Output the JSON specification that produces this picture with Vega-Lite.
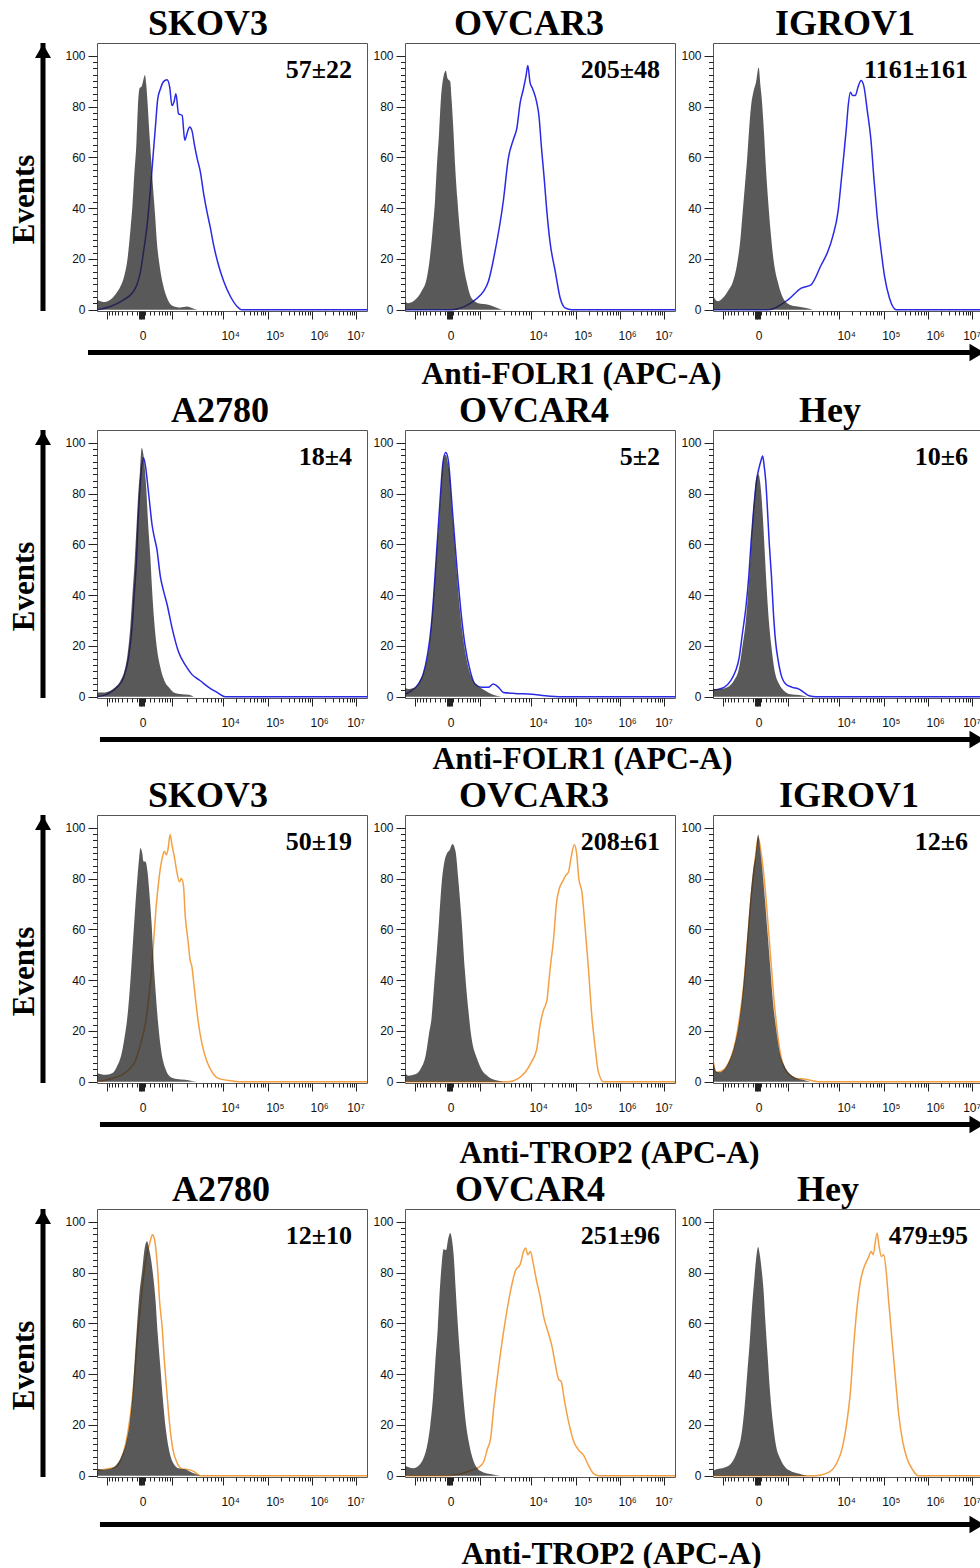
{
  "$schema": "https://vega.github.io/schema/vega-lite/v6.json",
  "padding": {"left": 8, "top": 5, "right": 0, "bottom": 0},
  "background": "white",
  "config": {
    "view": {"stroke": "#555", "strokeWidth": 1},
    "title": {"font": "Liberation Serif", "fontSize": 36, "fontWeight": "bold", "color": "black", "baseline": "alphabetic", "offset": 0.5, "anchor": "middle"},
    "axis": {"grid": false, "domain": false, "tickColor": "#222", "tickWidth": 1, "labelColor": "#111", "labelFont": "Liberation Sans", "labelFontSize": 12, "labelOverlap": false, "labelBound": false, "labelFlush": false}
  },
  "datasets": {
    "FOLR1_SKOV3": [
      {"stain":"label","mfi":"57±22"},
      {"stain":"isotype","apc":-1,"events":3.9},{"stain":"isotype","apc":-0.85,"events":3},{"stain":"isotype","apc":-0.7,"events":3.9},{"stain":"isotype","apc":-0.59,"events":5.9},{"stain":"isotype","apc":-0.47,"events":9.2},{"stain":"isotype","apc":-0.38,"events":13.7},{"stain":"isotype","apc":-0.31,"events":20.3},{"stain":"isotype","apc":-0.25,"events":30.7},{"stain":"isotype","apc":-0.2,"events":41.2},{"stain":"isotype","apc":-0.16,"events":52.9},{"stain":"isotype","apc":-0.11,"events":66},{"stain":"isotype","apc":-0.08,"events":79},{"stain":"isotype","apc":-0.04,"events":87.2},{"stain":"isotype","apc":0.01,"events":88},{"stain":"isotype","apc":0.05,"events":90.8},{"stain":"isotype","apc":0.08,"events":92.4},{"stain":"isotype","apc":0.11,"events":88.9},{"stain":"isotype","apc":0.14,"events":81.7},{"stain":"isotype","apc":0.18,"events":69.9},{"stain":"isotype","apc":0.22,"events":59.5},{"stain":"isotype","apc":0.26,"events":49},{"stain":"isotype","apc":0.31,"events":37.3},{"stain":"isotype","apc":0.35,"events":26.8},{"stain":"isotype","apc":0.41,"events":17.6},{"stain":"isotype","apc":0.49,"events":9.8},{"stain":"isotype","apc":0.58,"events":4.6},{"stain":"isotype","apc":0.69,"events":1.7},{"stain":"isotype","apc":0.88,"events":0.9},{"stain":"isotype","apc":1.03,"events":1.3},{"stain":"isotype","apc":1.14,"events":0.7},{"stain":"isotype","apc":1.26,"events":0},
      {"stain":"antibody","apc":-1,"events":0},{"stain":"antibody","apc":-0.7,"events":1.3},{"stain":"antibody","apc":-0.4,"events":3.9},{"stain":"antibody","apc":-0.21,"events":6.5},{"stain":"antibody","apc":-0.1,"events":9.8},{"stain":"antibody","apc":-0.02,"events":15},{"stain":"antibody","apc":0.05,"events":22.9},{"stain":"antibody","apc":0.13,"events":33.3},{"stain":"antibody","apc":0.2,"events":46.4},{"stain":"antibody","apc":0.26,"events":59.5},{"stain":"antibody","apc":0.32,"events":72.5},{"stain":"antibody","apc":0.37,"events":83},{"stain":"antibody","apc":0.43,"events":86.9},{"stain":"antibody","apc":0.5,"events":89.8},{"stain":"antibody","apc":0.58,"events":90.5},{"stain":"antibody","apc":0.64,"events":87.6},{"stain":"antibody","apc":0.69,"events":80.4},{"stain":"antibody","apc":0.74,"events":82},{"stain":"antibody","apc":0.78,"events":85},{"stain":"antibody","apc":0.84,"events":77.1},{"stain":"antibody","apc":0.92,"events":76.5},{"stain":"antibody","apc":0.98,"events":66.7},{"stain":"antibody","apc":1.04,"events":70},{"stain":"antibody","apc":1.09,"events":71.9},{"stain":"antibody","apc":1.14,"events":70.6},{"stain":"antibody","apc":1.2,"events":64.7},{"stain":"antibody","apc":1.26,"events":59.5},{"stain":"antibody","apc":1.33,"events":54.4},{"stain":"antibody","apc":1.41,"events":45.2},{"stain":"antibody","apc":1.48,"events":38.6},{"stain":"antibody","apc":1.56,"events":32},{"stain":"antibody","apc":1.63,"events":25.5},{"stain":"antibody","apc":1.74,"events":17.6},{"stain":"antibody","apc":1.86,"events":11.1},{"stain":"antibody","apc":2.01,"events":5.2},{"stain":"antibody","apc":2.16,"events":1.3},{"stain":"antibody","apc":2.27,"events":0},{"stain":"antibody","apc":5.09,"events":0}
    ],
    "FOLR1_OVCAR3": [
      {"stain":"label","mfi":"205±48"},
      {"stain":"isotype","apc":-1,"events":3.3},{"stain":"isotype","apc":-0.93,"events":2.6},{"stain":"isotype","apc":-0.77,"events":3.9},{"stain":"isotype","apc":-0.63,"events":7.2},{"stain":"isotype","apc":-0.51,"events":12.4},{"stain":"isotype","apc":-0.44,"events":20.3},{"stain":"isotype","apc":-0.38,"events":30.7},{"stain":"isotype","apc":-0.32,"events":43.8},{"stain":"isotype","apc":-0.28,"events":56.9},{"stain":"isotype","apc":-0.23,"events":70},{"stain":"isotype","apc":-0.19,"events":83},{"stain":"isotype","apc":-0.14,"events":91},{"stain":"isotype","apc":-0.08,"events":94.1},{"stain":"isotype","apc":-0.04,"events":91},{"stain":"isotype","apc":0.02,"events":89.8},{"stain":"isotype","apc":0.05,"events":83},{"stain":"isotype","apc":0.09,"events":71.2},{"stain":"isotype","apc":0.13,"events":56.9},{"stain":"isotype","apc":0.18,"events":43.8},{"stain":"isotype","apc":0.24,"events":30.7},{"stain":"isotype","apc":0.3,"events":20.3},{"stain":"isotype","apc":0.39,"events":11.1},{"stain":"isotype","apc":0.5,"events":4.6},{"stain":"isotype","apc":0.65,"events":2.6},{"stain":"isotype","apc":0.88,"events":2},{"stain":"isotype","apc":1.11,"events":0.5},{"stain":"isotype","apc":1.2,"events":0},
      {"stain":"antibody","apc":-1,"events":0},{"stain":"antibody","apc":0.05,"events":0},{"stain":"antibody","apc":0.35,"events":1.3},{"stain":"antibody","apc":0.58,"events":3.9},{"stain":"antibody","apc":0.77,"events":7.2},{"stain":"antibody","apc":0.88,"events":11.1},{"stain":"antibody","apc":1.03,"events":22.9},{"stain":"antibody","apc":1.22,"events":43.1},{"stain":"antibody","apc":1.33,"events":59.5},{"stain":"antibody","apc":1.45,"events":67.3},{"stain":"antibody","apc":1.52,"events":71.2},{"stain":"antibody","apc":1.6,"events":81.7},{"stain":"antibody","apc":1.67,"events":86.9},{"stain":"antibody","apc":1.73,"events":92.1},{"stain":"antibody","apc":1.77,"events":96.1},{"stain":"antibody","apc":1.82,"events":89.5},{"stain":"antibody","apc":1.88,"events":86.9},{"stain":"antibody","apc":1.97,"events":81.7},{"stain":"antibody","apc":2.02,"events":76.5},{"stain":"antibody","apc":2.08,"events":63.4},{"stain":"antibody","apc":2.14,"events":51.6},{"stain":"antibody","apc":2.2,"events":38.6},{"stain":"antibody","apc":2.27,"events":26.8},{"stain":"antibody","apc":2.39,"events":15},{"stain":"antibody","apc":2.5,"events":4.6},{"stain":"antibody","apc":2.61,"events":0.7},{"stain":"antibody","apc":2.76,"events":0},{"stain":"antibody","apc":5.09,"events":0}
    ],
    "FOLR1_IGROV1": [
      {"stain":"label","mfi":"1161±161"},
      {"stain":"isotype","apc":-1,"events":8.5},{"stain":"isotype","apc":-0.97,"events":4.6},{"stain":"isotype","apc":-0.89,"events":3.3},{"stain":"isotype","apc":-0.78,"events":4.6},{"stain":"isotype","apc":-0.67,"events":7.2},{"stain":"isotype","apc":-0.55,"events":11.1},{"stain":"isotype","apc":-0.46,"events":17.6},{"stain":"isotype","apc":-0.38,"events":28.1},{"stain":"isotype","apc":-0.33,"events":38.6},{"stain":"isotype","apc":-0.28,"events":49},{"stain":"isotype","apc":-0.23,"events":59.5},{"stain":"isotype","apc":-0.19,"events":69.9},{"stain":"isotype","apc":-0.14,"events":80.4},{"stain":"isotype","apc":-0.09,"events":85.6},{"stain":"isotype","apc":-0.03,"events":89.5},{"stain":"isotype","apc":0.03,"events":95.4},{"stain":"isotype","apc":0.07,"events":88.2},{"stain":"isotype","apc":0.1,"events":83},{"stain":"isotype","apc":0.15,"events":69.9},{"stain":"isotype","apc":0.19,"events":56.9},{"stain":"isotype","apc":0.24,"events":43.8},{"stain":"isotype","apc":0.3,"events":30.7},{"stain":"isotype","apc":0.37,"events":19},{"stain":"isotype","apc":0.46,"events":11.1},{"stain":"isotype","apc":0.58,"events":4.6},{"stain":"isotype","apc":0.73,"events":2},{"stain":"isotype","apc":0.91,"events":1.3},{"stain":"isotype","apc":1.1,"events":0.7},{"stain":"isotype","apc":1.25,"events":0},
      {"stain":"antibody","apc":-1,"events":0},{"stain":"antibody","apc":0.24,"events":0},{"stain":"antibody","apc":0.69,"events":3.9},{"stain":"antibody","apc":0.99,"events":8.5},{"stain":"antibody","apc":1.21,"events":9.8},{"stain":"antibody","apc":1.44,"events":17.6},{"stain":"antibody","apc":1.59,"events":22.9},{"stain":"antibody","apc":1.7,"events":28.8},{"stain":"antibody","apc":1.82,"events":38.6},{"stain":"antibody","apc":1.89,"events":50.3},{"stain":"antibody","apc":1.95,"events":60.8},{"stain":"antibody","apc":2.01,"events":71.9},{"stain":"antibody","apc":2.05,"events":80.4},{"stain":"antibody","apc":2.1,"events":85.6},{"stain":"antibody","apc":2.15,"events":84.3},{"stain":"antibody","apc":2.21,"events":84.3},{"stain":"antibody","apc":2.27,"events":87.6},{"stain":"antibody","apc":2.34,"events":90.2},{"stain":"antibody","apc":2.4,"events":88.2},{"stain":"antibody","apc":2.48,"events":78.4},{"stain":"antibody","apc":2.56,"events":67.3},{"stain":"antibody","apc":2.63,"events":51.6},{"stain":"antibody","apc":2.7,"events":37.3},{"stain":"antibody","apc":2.79,"events":23.5},{"stain":"antibody","apc":2.87,"events":13.1},{"stain":"antibody","apc":2.98,"events":4.6},{"stain":"antibody","apc":3.13,"events":0},{"stain":"antibody","apc":5.09,"events":0}
    ],
    "FOLR1_A2780": [
      {"stain":"label","mfi":"18±4"},
      {"stain":"isotype","apc":-1,"events":1.7},{"stain":"isotype","apc":-0.85,"events":1.7},{"stain":"isotype","apc":-0.7,"events":2.4},{"stain":"isotype","apc":-0.59,"events":3.7},{"stain":"isotype","apc":-0.47,"events":6.3},{"stain":"isotype","apc":-0.38,"events":10.2},{"stain":"isotype","apc":-0.31,"events":16.8},{"stain":"isotype","apc":-0.25,"events":27.3},{"stain":"isotype","apc":-0.2,"events":40.4},{"stain":"isotype","apc":-0.15,"events":53.5},{"stain":"isotype","apc":-0.11,"events":66.6},{"stain":"isotype","apc":-0.07,"events":79.7},{"stain":"isotype","apc":-0.03,"events":88.9},{"stain":"isotype","apc":0.01,"events":98},{"stain":"isotype","apc":0.04,"events":96},{"stain":"isotype","apc":0.07,"events":91.4},{"stain":"isotype","apc":0.11,"events":82.2},{"stain":"isotype","apc":0.15,"events":69.1},{"stain":"isotype","apc":0.2,"events":56},{"stain":"isotype","apc":0.24,"events":42.9},{"stain":"isotype","apc":0.29,"events":29.8},{"stain":"isotype","apc":0.35,"events":19.3},{"stain":"isotype","apc":0.43,"events":11.5},{"stain":"isotype","apc":0.52,"events":6.3},{"stain":"isotype","apc":0.62,"events":3.7},{"stain":"isotype","apc":0.73,"events":1.7},{"stain":"isotype","apc":0.92,"events":1},{"stain":"isotype","apc":1.07,"events":0.8},{"stain":"isotype","apc":1.18,"events":0},
      {"stain":"antibody","apc":-1,"events":0},{"stain":"antibody","apc":-0.77,"events":1},{"stain":"antibody","apc":-0.55,"events":3.7},{"stain":"antibody","apc":-0.4,"events":7.6},{"stain":"antibody","apc":-0.29,"events":15.3},{"stain":"antibody","apc":-0.21,"events":27.3},{"stain":"antibody","apc":-0.16,"events":40.4},{"stain":"antibody","apc":-0.11,"events":53.5},{"stain":"antibody","apc":-0.08,"events":66.6},{"stain":"antibody","apc":-0.04,"events":79.7},{"stain":"antibody","apc":0,"events":89},{"stain":"antibody","apc":0.05,"events":94.1},{"stain":"antibody","apc":0.1,"events":90},{"stain":"antibody","apc":0.14,"events":84},{"stain":"antibody","apc":0.19,"events":75.8},{"stain":"antibody","apc":0.24,"events":67.9},{"stain":"antibody","apc":0.29,"events":63},{"stain":"antibody","apc":0.35,"events":58.2},{"stain":"antibody","apc":0.43,"events":47.2},{"stain":"antibody","apc":0.5,"events":41.7},{"stain":"antibody","apc":0.58,"events":36.4},{"stain":"antibody","apc":0.69,"events":27.3},{"stain":"antibody","apc":0.84,"events":17.6},{"stain":"antibody","apc":0.99,"events":12.5},{"stain":"antibody","apc":1.14,"events":8.8},{"stain":"antibody","apc":1.33,"events":6.3},{"stain":"antibody","apc":1.52,"events":3.7},{"stain":"antibody","apc":1.71,"events":1.7},{"stain":"antibody","apc":1.89,"events":0},{"stain":"antibody","apc":5.09,"events":0}
    ],
    "FOLR1_OVCAR4": [
      {"stain":"label","mfi":"5±2"},
      {"stain":"isotype","apc":-1,"events":3.7},{"stain":"isotype","apc":-0.93,"events":3},{"stain":"isotype","apc":-0.77,"events":3.7},{"stain":"isotype","apc":-0.66,"events":6.3},{"stain":"isotype","apc":-0.55,"events":11.5},{"stain":"isotype","apc":-0.46,"events":19.3},{"stain":"isotype","apc":-0.4,"events":29.8},{"stain":"isotype","apc":-0.34,"events":43},{"stain":"isotype","apc":-0.29,"events":56},{"stain":"isotype","apc":-0.23,"events":69.1},{"stain":"isotype","apc":-0.19,"events":82.2},{"stain":"isotype","apc":-0.14,"events":92.7},{"stain":"isotype","apc":-0.08,"events":95.3},{"stain":"isotype","apc":-0.04,"events":92.7},{"stain":"isotype","apc":0.02,"events":84.9},{"stain":"isotype","apc":0.05,"events":75.8},{"stain":"isotype","apc":0.11,"events":62.6},{"stain":"isotype","apc":0.17,"events":48.2},{"stain":"isotype","apc":0.24,"events":33.8},{"stain":"isotype","apc":0.32,"events":22},{"stain":"isotype","apc":0.43,"events":11.5},{"stain":"isotype","apc":0.54,"events":6.3},{"stain":"isotype","apc":0.69,"events":3.7},{"stain":"isotype","apc":0.88,"events":1.7},{"stain":"isotype","apc":0.99,"events":0.8},{"stain":"isotype","apc":1.18,"events":0},
      {"stain":"antibody","apc":-1,"events":1},{"stain":"antibody","apc":-0.85,"events":2.4},{"stain":"antibody","apc":-0.7,"events":5},{"stain":"antibody","apc":-0.59,"events":8.9},{"stain":"antibody","apc":-0.49,"events":16.8},{"stain":"antibody","apc":-0.41,"events":27.3},{"stain":"antibody","apc":-0.35,"events":40.4},{"stain":"antibody","apc":-0.3,"events":53.5},{"stain":"antibody","apc":-0.25,"events":66.6},{"stain":"antibody","apc":-0.2,"events":79.7},{"stain":"antibody","apc":-0.14,"events":92.7},{"stain":"antibody","apc":-0.08,"events":96.1},{"stain":"antibody","apc":-0.02,"events":92.7},{"stain":"antibody","apc":0.02,"events":84.9},{"stain":"antibody","apc":0.07,"events":73.1},{"stain":"antibody","apc":0.13,"events":60},{"stain":"antibody","apc":0.19,"events":46.9},{"stain":"antibody","apc":0.26,"events":33.8},{"stain":"antibody","apc":0.35,"events":20.7},{"stain":"antibody","apc":0.47,"events":10.2},{"stain":"antibody","apc":0.58,"events":5},{"stain":"antibody","apc":0.73,"events":3.7},{"stain":"antibody","apc":0.88,"events":3.7},{"stain":"antibody","apc":0.99,"events":5},{"stain":"antibody","apc":1.11,"events":3.7},{"stain":"antibody","apc":1.22,"events":1.7},{"stain":"antibody","apc":1.48,"events":1.3},{"stain":"antibody","apc":1.86,"events":1},{"stain":"antibody","apc":2.16,"events":0.4},{"stain":"antibody","apc":2.54,"events":0},{"stain":"antibody","apc":5.09,"events":0}
    ],
    "FOLR1_Hey": [
      {"stain":"label","mfi":"10±6"},
      {"stain":"isotype","apc":-1,"events":3},{"stain":"isotype","apc":-0.83,"events":3},{"stain":"isotype","apc":-0.68,"events":3.7},{"stain":"isotype","apc":-0.53,"events":6.3},{"stain":"isotype","apc":-0.41,"events":11.5},{"stain":"isotype","apc":-0.34,"events":19.3},{"stain":"isotype","apc":-0.26,"events":29.8},{"stain":"isotype","apc":-0.2,"events":43},{"stain":"isotype","apc":-0.15,"events":56},{"stain":"isotype","apc":-0.11,"events":69.1},{"stain":"isotype","apc":-0.06,"events":79.6},{"stain":"isotype","apc":-0.02,"events":86.2},{"stain":"isotype","apc":0.03,"events":87.5},{"stain":"isotype","apc":0.06,"events":84.9},{"stain":"isotype","apc":0.09,"events":79.6},{"stain":"isotype","apc":0.13,"events":69.1},{"stain":"isotype","apc":0.17,"events":56},{"stain":"isotype","apc":0.21,"events":43},{"stain":"isotype","apc":0.26,"events":29.8},{"stain":"isotype","apc":0.32,"events":19.3},{"stain":"isotype","apc":0.39,"events":10.2},{"stain":"isotype","apc":0.49,"events":5},{"stain":"isotype","apc":0.6,"events":2.4},{"stain":"isotype","apc":0.75,"events":1},{"stain":"isotype","apc":0.94,"events":0.7},{"stain":"isotype","apc":1.13,"events":0},
      {"stain":"antibody","apc":-1,"events":2.6},{"stain":"antibody","apc":-0.75,"events":3.7},{"stain":"antibody","apc":-0.6,"events":6.3},{"stain":"antibody","apc":-0.49,"events":10.2},{"stain":"antibody","apc":-0.41,"events":15.3},{"stain":"antibody","apc":-0.34,"events":24.4},{"stain":"antibody","apc":-0.26,"events":34.9},{"stain":"antibody","apc":-0.19,"events":48},{"stain":"antibody","apc":-0.14,"events":61.1},{"stain":"antibody","apc":-0.08,"events":74.4},{"stain":"antibody","apc":-0.02,"events":84.9},{"stain":"antibody","apc":0.04,"events":90.2},{"stain":"antibody","apc":0.08,"events":92.8},{"stain":"antibody","apc":0.12,"events":94.8},{"stain":"antibody","apc":0.15,"events":91.5},{"stain":"antibody","apc":0.19,"events":84.9},{"stain":"antibody","apc":0.23,"events":73.1},{"stain":"antibody","apc":0.27,"events":60},{"stain":"antibody","apc":0.32,"events":46.9},{"stain":"antibody","apc":0.36,"events":33.8},{"stain":"antibody","apc":0.41,"events":22},{"stain":"antibody","apc":0.47,"events":14.2},{"stain":"antibody","apc":0.53,"events":9},{"stain":"antibody","apc":0.64,"events":5},{"stain":"antibody","apc":0.79,"events":3.7},{"stain":"antibody","apc":0.94,"events":3},{"stain":"antibody","apc":1.05,"events":1.7},{"stain":"antibody","apc":1.17,"events":0.4},{"stain":"antibody","apc":1.32,"events":0},{"stain":"antibody","apc":5.09,"events":0}
    ],
    "TROP2_SKOV3": [
      {"stain":"label","mfi":"50±19"},
      {"stain":"isotype","apc":-1,"events":3.3},{"stain":"isotype","apc":-0.81,"events":2.7},{"stain":"isotype","apc":-0.66,"events":3.3},{"stain":"isotype","apc":-0.55,"events":6},{"stain":"isotype","apc":-0.45,"events":10.7},{"stain":"isotype","apc":-0.38,"events":17.3},{"stain":"isotype","apc":-0.3,"events":28},{"stain":"isotype","apc":-0.24,"events":41.3},{"stain":"isotype","apc":-0.19,"events":54.7},{"stain":"isotype","apc":-0.14,"events":68},{"stain":"isotype","apc":-0.09,"events":80},{"stain":"isotype","apc":-0.05,"events":88},{"stain":"isotype","apc":-0.02,"events":92},{"stain":"isotype","apc":0.02,"events":90},{"stain":"isotype","apc":0.05,"events":86.7},{"stain":"isotype","apc":0.09,"events":86.7},{"stain":"isotype","apc":0.14,"events":82.7},{"stain":"isotype","apc":0.18,"events":74.7},{"stain":"isotype","apc":0.23,"events":62.7},{"stain":"isotype","apc":0.27,"events":49.3},{"stain":"isotype","apc":0.32,"events":36},{"stain":"isotype","apc":0.38,"events":22.7},{"stain":"isotype","apc":0.45,"events":12},{"stain":"isotype","apc":0.54,"events":5.3},{"stain":"isotype","apc":0.65,"events":2},{"stain":"isotype","apc":0.8,"events":1.1},{"stain":"isotype","apc":0.99,"events":0.8},{"stain":"isotype","apc":1.14,"events":0.3},{"stain":"isotype","apc":1.26,"events":0},
      {"stain":"antibody","apc":-1,"events":0},{"stain":"antibody","apc":-0.66,"events":1.3},{"stain":"antibody","apc":-0.44,"events":2.7},{"stain":"antibody","apc":-0.25,"events":5.3},{"stain":"antibody","apc":-0.14,"events":8},{"stain":"antibody","apc":-0.02,"events":14.7},{"stain":"antibody","apc":0.09,"events":22.7},{"stain":"antibody","apc":0.17,"events":33.3},{"stain":"antibody","apc":0.23,"events":44},{"stain":"antibody","apc":0.28,"events":56},{"stain":"antibody","apc":0.33,"events":68},{"stain":"antibody","apc":0.39,"events":78.7},{"stain":"antibody","apc":0.47,"events":88},{"stain":"antibody","apc":0.52,"events":90.7},{"stain":"antibody","apc":0.56,"events":89.3},{"stain":"antibody","apc":0.6,"events":91.3},{"stain":"antibody","apc":0.65,"events":97.3},{"stain":"antibody","apc":0.69,"events":93.3},{"stain":"antibody","apc":0.75,"events":88},{"stain":"antibody","apc":0.8,"events":82.7},{"stain":"antibody","apc":0.86,"events":78.7},{"stain":"antibody","apc":0.9,"events":80},{"stain":"antibody","apc":0.95,"events":77.3},{"stain":"antibody","apc":0.99,"events":65.3},{"stain":"antibody","apc":1.05,"events":56},{"stain":"antibody","apc":1.1,"events":48},{"stain":"antibody","apc":1.14,"events":45.3},{"stain":"antibody","apc":1.2,"events":36},{"stain":"antibody","apc":1.28,"events":24},{"stain":"antibody","apc":1.37,"events":14.7},{"stain":"antibody","apc":1.48,"events":8},{"stain":"antibody","apc":1.59,"events":4},{"stain":"antibody","apc":1.74,"events":1.3},{"stain":"antibody","apc":1.97,"events":0.5},{"stain":"antibody","apc":2.27,"events":0},{"stain":"antibody","apc":5.09,"events":0}
    ],
    "TROP2_OVCAR3": [
      {"stain":"label","mfi":"208±61"},
      {"stain":"isotype","apc":-1,"events":3.3},{"stain":"isotype","apc":-0.93,"events":2.4},{"stain":"isotype","apc":-0.77,"events":2.9},{"stain":"isotype","apc":-0.64,"events":5.3},{"stain":"isotype","apc":-0.53,"events":10.7},{"stain":"isotype","apc":-0.46,"events":18.7},{"stain":"isotype","apc":-0.4,"events":25.3},{"stain":"isotype","apc":-0.34,"events":38.7},{"stain":"isotype","apc":-0.28,"events":52},{"stain":"isotype","apc":-0.23,"events":64},{"stain":"isotype","apc":-0.17,"events":78.7},{"stain":"isotype","apc":-0.11,"events":86.7},{"stain":"isotype","apc":-0.05,"events":90},{"stain":"isotype","apc":0.01,"events":91.3},{"stain":"isotype","apc":0.07,"events":93.6},{"stain":"isotype","apc":0.14,"events":90.7},{"stain":"isotype","apc":0.2,"events":80},{"stain":"isotype","apc":0.28,"events":62.7},{"stain":"isotype","apc":0.35,"events":44},{"stain":"isotype","apc":0.43,"events":28},{"stain":"isotype","apc":0.5,"events":17.3},{"stain":"isotype","apc":0.62,"events":9.3},{"stain":"isotype","apc":0.73,"events":4.7},{"stain":"isotype","apc":0.88,"events":2},{"stain":"isotype","apc":1.11,"events":0.4},{"stain":"isotype","apc":1.22,"events":0},
      {"stain":"antibody","apc":-1,"events":0},{"stain":"antibody","apc":1.33,"events":0},{"stain":"antibody","apc":1.56,"events":1.3},{"stain":"antibody","apc":1.71,"events":3.7},{"stain":"antibody","apc":1.86,"events":8},{"stain":"antibody","apc":1.97,"events":12.7},{"stain":"antibody","apc":2.05,"events":22.7},{"stain":"antibody","apc":2.12,"events":28},{"stain":"antibody","apc":2.2,"events":32},{"stain":"antibody","apc":2.27,"events":44},{"stain":"antibody","apc":2.35,"events":56},{"stain":"antibody","apc":2.42,"events":70.7},{"stain":"antibody","apc":2.48,"events":76},{"stain":"antibody","apc":2.55,"events":78.7},{"stain":"antibody","apc":2.63,"events":81.3},{"stain":"antibody","apc":2.69,"events":82.7},{"stain":"antibody","apc":2.75,"events":88.7},{"stain":"antibody","apc":2.82,"events":93.3},{"stain":"antibody","apc":2.87,"events":90},{"stain":"antibody","apc":2.92,"events":80},{"stain":"antibody","apc":2.99,"events":74.7},{"stain":"antibody","apc":3.06,"events":61.3},{"stain":"antibody","apc":3.14,"events":44},{"stain":"antibody","apc":3.21,"events":26.7},{"stain":"antibody","apc":3.29,"events":13.3},{"stain":"antibody","apc":3.36,"events":4},{"stain":"antibody","apc":3.48,"events":0},{"stain":"antibody","apc":5.09,"events":0}
    ],
    "TROP2_IGROV1": [
      {"stain":"label","mfi":"12±6"},
      {"stain":"isotype","apc":-1,"events":9.3},{"stain":"isotype","apc":-0.93,"events":4},{"stain":"isotype","apc":-0.86,"events":3.7},{"stain":"isotype","apc":-0.75,"events":4.7},{"stain":"isotype","apc":-0.64,"events":8},{"stain":"isotype","apc":-0.53,"events":13.3},{"stain":"isotype","apc":-0.43,"events":21.3},{"stain":"isotype","apc":-0.35,"events":32},{"stain":"isotype","apc":-0.28,"events":45.3},{"stain":"isotype","apc":-0.22,"events":58.7},{"stain":"isotype","apc":-0.16,"events":72},{"stain":"isotype","apc":-0.1,"events":82.7},{"stain":"isotype","apc":-0.04,"events":89.3},{"stain":"isotype","apc":0.02,"events":97.3},{"stain":"isotype","apc":0.06,"events":92},{"stain":"isotype","apc":0.11,"events":84},{"stain":"isotype","apc":0.17,"events":72},{"stain":"isotype","apc":0.23,"events":58.7},{"stain":"isotype","apc":0.29,"events":45.3},{"stain":"isotype","apc":0.35,"events":32},{"stain":"isotype","apc":0.43,"events":20},{"stain":"isotype","apc":0.5,"events":12},{"stain":"isotype","apc":0.6,"events":6.7},{"stain":"isotype","apc":0.72,"events":3.3},{"stain":"isotype","apc":0.86,"events":1.6},{"stain":"isotype","apc":1.05,"events":0.7},{"stain":"isotype","apc":1.2,"events":0},
      {"stain":"antibody","apc":-1,"events":8.7},{"stain":"antibody","apc":-0.93,"events":3.7},{"stain":"antibody","apc":-0.83,"events":4},{"stain":"antibody","apc":-0.72,"events":5.3},{"stain":"antibody","apc":-0.6,"events":9.3},{"stain":"antibody","apc":-0.49,"events":16},{"stain":"antibody","apc":-0.4,"events":25.3},{"stain":"antibody","apc":-0.32,"events":36},{"stain":"antibody","apc":-0.25,"events":49.3},{"stain":"antibody","apc":-0.19,"events":62.7},{"stain":"antibody","apc":-0.13,"events":74.7},{"stain":"antibody","apc":-0.07,"events":84},{"stain":"antibody","apc":-0.02,"events":92},{"stain":"antibody","apc":0.02,"events":96},{"stain":"antibody","apc":0.07,"events":92},{"stain":"antibody","apc":0.13,"events":84},{"stain":"antibody","apc":0.19,"events":73.3},{"stain":"antibody","apc":0.25,"events":60},{"stain":"antibody","apc":0.31,"events":46.7},{"stain":"antibody","apc":0.37,"events":33.3},{"stain":"antibody","apc":0.44,"events":21.3},{"stain":"antibody","apc":0.51,"events":12},{"stain":"antibody","apc":0.61,"events":5.3},{"stain":"antibody","apc":0.73,"events":2.7},{"stain":"antibody","apc":0.88,"events":1.3},{"stain":"antibody","apc":1.09,"events":1},{"stain":"antibody","apc":1.24,"events":0.4},{"stain":"antibody","apc":1.39,"events":0},{"stain":"antibody","apc":5.09,"events":0}
    ],
    "TROP2_A2780": [
      {"stain":"label","mfi":"12±10"},
      {"stain":"isotype","apc":-1,"events":2.7},{"stain":"isotype","apc":-0.85,"events":2.4},{"stain":"isotype","apc":-0.7,"events":2.7},{"stain":"isotype","apc":-0.55,"events":4.6},{"stain":"isotype","apc":-0.44,"events":8},{"stain":"isotype","apc":-0.34,"events":13.3},{"stain":"isotype","apc":-0.26,"events":21.2},{"stain":"isotype","apc":-0.2,"events":31.9},{"stain":"isotype","apc":-0.15,"events":45.2},{"stain":"isotype","apc":-0.1,"events":58.4},{"stain":"isotype","apc":-0.05,"events":70.4},{"stain":"isotype","apc":0.02,"events":81},{"stain":"isotype","apc":0.07,"events":89},{"stain":"isotype","apc":0.13,"events":92.3},{"stain":"isotype","apc":0.17,"events":89.6},{"stain":"isotype","apc":0.22,"events":85},{"stain":"isotype","apc":0.26,"events":79.7},{"stain":"isotype","apc":0.32,"events":69.1},{"stain":"isotype","apc":0.37,"events":55.8},{"stain":"isotype","apc":0.43,"events":42.5},{"stain":"isotype","apc":0.49,"events":29.2},{"stain":"isotype","apc":0.55,"events":18.6},{"stain":"isotype","apc":0.62,"events":10.6},{"stain":"isotype","apc":0.71,"events":5.3},{"stain":"isotype","apc":0.84,"events":2.9},{"stain":"isotype","apc":1.03,"events":2.3},{"stain":"isotype","apc":1.14,"events":1.3},{"stain":"isotype","apc":1.33,"events":0},
      {"stain":"antibody","apc":-1,"events":2},{"stain":"antibody","apc":-0.77,"events":2.7},{"stain":"antibody","apc":-0.59,"events":3.3},{"stain":"antibody","apc":-0.47,"events":6},{"stain":"antibody","apc":-0.36,"events":11.9},{"stain":"antibody","apc":-0.29,"events":18.6},{"stain":"antibody","apc":-0.21,"events":29.2},{"stain":"antibody","apc":-0.14,"events":42.5},{"stain":"antibody","apc":-0.08,"events":55.8},{"stain":"antibody","apc":-0.02,"events":66.4},{"stain":"antibody","apc":0.04,"events":77},{"stain":"antibody","apc":0.1,"events":85},{"stain":"antibody","apc":0.15,"events":89},{"stain":"antibody","apc":0.2,"events":92.3},{"stain":"antibody","apc":0.25,"events":94.9},{"stain":"antibody","apc":0.29,"events":93.6},{"stain":"antibody","apc":0.33,"events":88.9},{"stain":"antibody","apc":0.37,"events":81},{"stain":"antibody","apc":0.41,"events":69.1},{"stain":"antibody","apc":0.47,"events":58.4},{"stain":"antibody","apc":0.52,"events":45.2},{"stain":"antibody","apc":0.58,"events":31.9},{"stain":"antibody","apc":0.64,"events":19.9},{"stain":"antibody","apc":0.71,"events":10.6},{"stain":"antibody","apc":0.8,"events":5.3},{"stain":"antibody","apc":0.92,"events":2.7},{"stain":"antibody","apc":1.07,"events":2.4},{"stain":"antibody","apc":1.18,"events":1.7},{"stain":"antibody","apc":1.33,"events":0},{"stain":"antibody","apc":5.09,"events":0}
    ],
    "TROP2_OVCAR4": [
      {"stain":"label","mfi":"251±96"},
      {"stain":"isotype","apc":-1,"events":4},{"stain":"isotype","apc":-0.92,"events":3.3},{"stain":"isotype","apc":-0.81,"events":2.9},{"stain":"isotype","apc":-0.69,"events":4},{"stain":"isotype","apc":-0.59,"events":6.6},{"stain":"isotype","apc":-0.5,"events":11.9},{"stain":"isotype","apc":-0.43,"events":19.9},{"stain":"isotype","apc":-0.37,"events":30.5},{"stain":"isotype","apc":-0.32,"events":43.8},{"stain":"isotype","apc":-0.26,"events":58.4},{"stain":"isotype","apc":-0.22,"events":71.7},{"stain":"isotype","apc":-0.17,"events":83.7},{"stain":"isotype","apc":-0.13,"events":89.2},{"stain":"isotype","apc":-0.07,"events":88.9},{"stain":"isotype","apc":-0.03,"events":92.9},{"stain":"isotype","apc":0.02,"events":95.6},{"stain":"isotype","apc":0.06,"events":92.9},{"stain":"isotype","apc":0.1,"events":86.3},{"stain":"isotype","apc":0.14,"events":74.4},{"stain":"isotype","apc":0.19,"events":59.8},{"stain":"isotype","apc":0.25,"events":45.2},{"stain":"isotype","apc":0.31,"events":31.9},{"stain":"isotype","apc":0.37,"events":21.2},{"stain":"isotype","apc":0.44,"events":13.3},{"stain":"isotype","apc":0.53,"events":6.6},{"stain":"isotype","apc":0.64,"events":2.7},{"stain":"isotype","apc":0.77,"events":1.3},{"stain":"isotype","apc":0.93,"events":0.7},{"stain":"isotype","apc":1.15,"events":0},
      {"stain":"antibody","apc":-1,"events":0},{"stain":"antibody","apc":-0.05,"events":0},{"stain":"antibody","apc":0.25,"events":0.7},{"stain":"antibody","apc":0.47,"events":2},{"stain":"antibody","apc":0.66,"events":3.3},{"stain":"antibody","apc":0.77,"events":5.3},{"stain":"antibody","apc":0.86,"events":10.6},{"stain":"antibody","apc":0.93,"events":14.6},{"stain":"antibody","apc":1,"events":26.6},{"stain":"antibody","apc":1.11,"events":42.5},{"stain":"antibody","apc":1.26,"events":60.8},{"stain":"antibody","apc":1.38,"events":72.7},{"stain":"antibody","apc":1.49,"events":80.7},{"stain":"antibody","apc":1.6,"events":83.3},{"stain":"antibody","apc":1.68,"events":88.6},{"stain":"antibody","apc":1.72,"events":89.6},{"stain":"antibody","apc":1.77,"events":87},{"stain":"antibody","apc":1.83,"events":88.3},{"stain":"antibody","apc":1.89,"events":83.7},{"stain":"antibody","apc":1.98,"events":75.7},{"stain":"antibody","apc":2.05,"events":70.4},{"stain":"antibody","apc":2.13,"events":62.4},{"stain":"antibody","apc":2.24,"events":55.8},{"stain":"antibody","apc":2.32,"events":50.5},{"stain":"antibody","apc":2.39,"events":43.8},{"stain":"antibody","apc":2.47,"events":37.8},{"stain":"antibody","apc":2.52,"events":37.2},{"stain":"antibody","apc":2.6,"events":29.2},{"stain":"antibody","apc":2.69,"events":21.2},{"stain":"antibody","apc":2.81,"events":13.3},{"stain":"antibody","apc":2.92,"events":10},{"stain":"antibody","apc":3.03,"events":8},{"stain":"antibody","apc":3.14,"events":4},{"stain":"antibody","apc":3.26,"events":0.7},{"stain":"antibody","apc":3.37,"events":0},{"stain":"antibody","apc":5.09,"events":0}
    ],
    "TROP2_Hey": [
      {"stain":"label","mfi":"479±95"},
      {"stain":"isotype","apc":-1,"events":2},{"stain":"isotype","apc":-0.87,"events":2.7},{"stain":"isotype","apc":-0.72,"events":3.3},{"stain":"isotype","apc":-0.57,"events":5.3},{"stain":"isotype","apc":-0.46,"events":9.3},{"stain":"isotype","apc":-0.36,"events":15.9},{"stain":"isotype","apc":-0.29,"events":26.6},{"stain":"isotype","apc":-0.23,"events":39.8},{"stain":"isotype","apc":-0.17,"events":53.1},{"stain":"isotype","apc":-0.12,"events":66.4},{"stain":"isotype","apc":-0.07,"events":77},{"stain":"isotype","apc":-0.03,"events":85},{"stain":"isotype","apc":0.02,"events":90},{"stain":"isotype","apc":0.05,"events":87.6},{"stain":"isotype","apc":0.09,"events":82.3},{"stain":"isotype","apc":0.14,"events":73},{"stain":"isotype","apc":0.18,"events":61.1},{"stain":"isotype","apc":0.23,"events":47.8},{"stain":"isotype","apc":0.28,"events":34.5},{"stain":"isotype","apc":0.35,"events":21.2},{"stain":"isotype","apc":0.42,"events":11.9},{"stain":"isotype","apc":0.52,"events":6.6},{"stain":"isotype","apc":0.63,"events":3.3},{"stain":"isotype","apc":0.78,"events":1.6},{"stain":"isotype","apc":0.93,"events":0.9},{"stain":"isotype","apc":1.12,"events":0},
      {"stain":"antibody","apc":-1,"events":0},{"stain":"antibody","apc":1.31,"events":0},{"stain":"antibody","apc":1.61,"events":1.3},{"stain":"antibody","apc":1.8,"events":5.3},{"stain":"antibody","apc":1.91,"events":10.6},{"stain":"antibody","apc":2.02,"events":21.2},{"stain":"antibody","apc":2.1,"events":33.2},{"stain":"antibody","apc":2.17,"events":50.5},{"stain":"antibody","apc":2.25,"events":66.4},{"stain":"antibody","apc":2.33,"events":77},{"stain":"antibody","apc":2.4,"events":81.7},{"stain":"antibody","apc":2.5,"events":85.7},{"stain":"antibody","apc":2.57,"events":88.3},{"stain":"antibody","apc":2.61,"events":87},{"stain":"antibody","apc":2.7,"events":95.6},{"stain":"antibody","apc":2.74,"events":91},{"stain":"antibody","apc":2.8,"events":86.3},{"stain":"antibody","apc":2.85,"events":87},{"stain":"antibody","apc":2.91,"events":79.7},{"stain":"antibody","apc":2.96,"events":69.1},{"stain":"antibody","apc":3.04,"events":53.1},{"stain":"antibody","apc":3.12,"events":37.2},{"stain":"antibody","apc":3.19,"events":23.9},{"stain":"antibody","apc":3.28,"events":13.3},{"stain":"antibody","apc":3.38,"events":6.6},{"stain":"antibody","apc":3.49,"events":2.7},{"stain":"antibody","apc":3.63,"events":0},{"stain":"antibody","apc":5.09,"events":0}
    ]
  },
  "vconcat": [
    {"hconcat": [
      {"width": 32, "height": 268, "view": {"stroke": null}, "data": {"values": [{"label": "Events"}]},
       "encoding": {"x": {"datum": 0.5, "type": "quantitative", "scale": {"domain": [0, 1]}, "axis": null}},
       "layer": [
         {"mark": {"type": "rule", "strokeWidth": 5, "color": "black"},
          "encoding": {"y": {"datum": 0, "type": "quantitative", "scale": {"domain": [0, 1]}, "axis": {"title": "Events", "domain": false, "ticks": false, "labels": false, "titleFont": "Liberation Serif", "titleFontSize": 31, "titleFontWeight": "bold", "titleColor": "black", "titlePadding": -6, "titleBaseline": "alphabetic", "minExtent": 0, "maxExtent": 0, "titleY": 156}}, "y2": {"datum": 1}}},
         {"mark": {"type": "point", "shape": "triangle-up", "filled": true, "size": 256, "color": "black", "opacity": 1, "yOffset": 8},
          "encoding": {"y": {"datum": 1, "type": "quantitative"}}}
       ]},
      {"title": {"text": "SKOV3", "dx": -24}, "width": 270, "height": 268, "data": {"name": "FOLR1_SKOV3"},
       "resolve": {"scale": {"x": "independent", "y": "independent"}, "axis": {"x": "independent", "y": "independent"}},
       "layer": [
         {"encoding": {
            "x": {"field": "apc", "type": "quantitative", "scale": {"domain": [-1, 5.09], "nice": false, "zero": false}, "axis": {"title": null, "values": [-0.77,-0.72,-0.66,-0.6,-0.52,-0.43,-0.32,-0.22,-0.1,-0.05,-0.03,-0.015,0,0.015,0.03,0.05,0.09,0.2,0.29,0.39,0.47,0.54,0.59,0.65,0.69,1.04,1.24,1.38,1.49,1.58,1.66,1.73,1.79,1.84,2.14,2.32,2.44,2.54,2.62,2.69,2.74,2.79,2.85,3.15,3.33,3.45,3.55,3.63,3.7,3.75,3.8,3.85,4.15,4.33,4.45,4.55,4.63,4.7,4.75,4.8,4.85], "labelExpr": "datum.value === 0 ? '0' : datum.value === 1.84 ? '10⁴' : datum.value === 2.85 ? '10⁵' : datum.value === 3.85 ? '10⁶' : datum.value === 4.85 ? '10⁷' : ''", "tickSize": {"condition": {"test": "indexof([-0.77,-0.05,-0.03,-0.015,0,0.015,0.03,0.05,0.69,1.84,2.85,3.85,4.85], datum.value) >= 0", "value": 8}, "value": 4}, "labelAlign": {"condition": {"test": "datum.value > 4.5", "value": "right"}, "value": "left"}, "labelOffset": {"condition": {"test": "datum.value > 4.5", "value": 8}, "value": -2}, "labelPadding": 11}},
            "y": {"field": "events", "type": "quantitative", "scale": {"domain": [-0.5, 105], "nice": false, "zero": false}, "axis": {"title": null, "values": [0,2.5,5,7.5,10,12.5,15,17.5,20,22.5,25,27.5,30,32.5,35,37.5,40,42.5,45,47.5,50,52.5,55,57.5,60,62.5,65,67.5,70,72.5,75,77.5,80,82.5,85,87.5,90,92.5,95,97.5,100], "labelExpr": "datum.value % 20 === 0 ? datum.label : ''", "tickSize": {"condition": {"test": "datum.value % 20 === 0", "value": 9}, "value": 4.5}, "labelPadding": 3}}},
          "layer": [
            {"transform": [{"filter": "datum.stain === 'antibody'"}], "mark": {"type": "line", "color": "#2a2ae6", "strokeWidth": 1.5, "interpolate": "monotone", "clip": true}},
            {"transform": [{"filter": "datum.stain === 'isotype'"}], "mark": {"type": "area", "color": "#222222", "opacity": 0.75, "interpolate": "monotone", "clip": true}}
          ]},
         {"transform": [{"filter": "datum.stain === 'label'"}], "mark": {"type": "text", "align": "right", "baseline": "middle", "font": "Liberation Serif", "fontSize": 26, "fontWeight": "bold", "color": "black"}, "encoding": {"x": {"datum": 4.75, "type": "quantitative", "scale": {"domain": [-1, 5.09], "nice": false, "zero": false}, "axis": null}, "y": {"datum": 94.4, "type": "quantitative", "scale": {"domain": [-0.5, 105], "nice": false, "zero": false}, "axis": null}, "text": {"field": "mfi", "type": "nominal"}}}
       ]},
      {"title": {"text": "OVCAR3", "dx": -11}, "width": 270, "height": 268, "data": {"name": "FOLR1_OVCAR3"},
       "resolve": {"scale": {"x": "independent", "y": "independent"}, "axis": {"x": "independent", "y": "independent"}},
       "layer": [
         {"encoding": {
            "x": {"field": "apc", "type": "quantitative", "scale": {"domain": [-1, 5.09], "nice": false, "zero": false}, "axis": {"title": null, "values": [-0.77,-0.72,-0.66,-0.6,-0.52,-0.43,-0.32,-0.22,-0.1,-0.05,-0.03,-0.015,0,0.015,0.03,0.05,0.09,0.2,0.29,0.39,0.47,0.54,0.59,0.65,0.69,1.04,1.24,1.38,1.49,1.58,1.66,1.73,1.79,1.84,2.14,2.32,2.44,2.54,2.62,2.69,2.74,2.79,2.85,3.15,3.33,3.45,3.55,3.63,3.7,3.75,3.8,3.85,4.15,4.33,4.45,4.55,4.63,4.7,4.75,4.8,4.85], "labelExpr": "datum.value === 0 ? '0' : datum.value === 1.84 ? '10⁴' : datum.value === 2.85 ? '10⁵' : datum.value === 3.85 ? '10⁶' : datum.value === 4.85 ? '10⁷' : ''", "tickSize": {"condition": {"test": "indexof([-0.77,-0.05,-0.03,-0.015,0,0.015,0.03,0.05,0.69,1.84,2.85,3.85,4.85], datum.value) >= 0", "value": 8}, "value": 4}, "labelAlign": {"condition": {"test": "datum.value > 4.5", "value": "right"}, "value": "left"}, "labelOffset": {"condition": {"test": "datum.value > 4.5", "value": 8}, "value": -2}, "labelPadding": 11}},
            "y": {"field": "events", "type": "quantitative", "scale": {"domain": [-0.5, 105], "nice": false, "zero": false}, "axis": {"title": null, "values": [0,2.5,5,7.5,10,12.5,15,17.5,20,22.5,25,27.5,30,32.5,35,37.5,40,42.5,45,47.5,50,52.5,55,57.5,60,62.5,65,67.5,70,72.5,75,77.5,80,82.5,85,87.5,90,92.5,95,97.5,100], "labelExpr": "datum.value % 20 === 0 ? datum.label : ''", "tickSize": {"condition": {"test": "datum.value % 20 === 0", "value": 9}, "value": 4.5}, "labelPadding": 3}}},
          "layer": [
            {"transform": [{"filter": "datum.stain === 'antibody'"}], "mark": {"type": "line", "color": "#2a2ae6", "strokeWidth": 1.5, "interpolate": "monotone", "clip": true}},
            {"transform": [{"filter": "datum.stain === 'isotype'"}], "mark": {"type": "area", "color": "#222222", "opacity": 0.75, "interpolate": "monotone", "clip": true}}
          ]},
         {"transform": [{"filter": "datum.stain === 'label'"}], "mark": {"type": "text", "align": "right", "baseline": "middle", "font": "Liberation Serif", "fontSize": 26, "fontWeight": "bold", "color": "black"}, "encoding": {"x": {"datum": 4.75, "type": "quantitative", "scale": {"domain": [-1, 5.09], "nice": false, "zero": false}, "axis": null}, "y": {"datum": 94.4, "type": "quantitative", "scale": {"domain": [-0.5, 105], "nice": false, "zero": false}, "axis": null}, "text": {"field": "mfi", "type": "nominal"}}}
       ]},
      {"title": {"text": "IGROV1", "dx": -3}, "width": 270, "height": 268, "data": {"name": "FOLR1_IGROV1"},
       "resolve": {"scale": {"x": "independent", "y": "independent"}, "axis": {"x": "independent", "y": "independent"}},
       "layer": [
         {"encoding": {
            "x": {"field": "apc", "type": "quantitative", "scale": {"domain": [-1, 5.09], "nice": false, "zero": false}, "axis": {"title": null, "values": [-0.77,-0.72,-0.66,-0.6,-0.52,-0.43,-0.32,-0.22,-0.1,-0.05,-0.03,-0.015,0,0.015,0.03,0.05,0.09,0.2,0.29,0.39,0.47,0.54,0.59,0.65,0.69,1.04,1.24,1.38,1.49,1.58,1.66,1.73,1.79,1.84,2.14,2.32,2.44,2.54,2.62,2.69,2.74,2.79,2.85,3.15,3.33,3.45,3.55,3.63,3.7,3.75,3.8,3.85,4.15,4.33,4.45,4.55,4.63,4.7,4.75,4.8,4.85], "labelExpr": "datum.value === 0 ? '0' : datum.value === 1.84 ? '10⁴' : datum.value === 2.85 ? '10⁵' : datum.value === 3.85 ? '10⁶' : datum.value === 4.85 ? '10⁷' : ''", "tickSize": {"condition": {"test": "indexof([-0.77,-0.05,-0.03,-0.015,0,0.015,0.03,0.05,0.69,1.84,2.85,3.85,4.85], datum.value) >= 0", "value": 8}, "value": 4}, "labelAlign": {"condition": {"test": "datum.value > 4.5", "value": "right"}, "value": "left"}, "labelOffset": {"condition": {"test": "datum.value > 4.5", "value": 8}, "value": -2}, "labelPadding": 11}},
            "y": {"field": "events", "type": "quantitative", "scale": {"domain": [-0.5, 105], "nice": false, "zero": false}, "axis": {"title": null, "values": [0,2.5,5,7.5,10,12.5,15,17.5,20,22.5,25,27.5,30,32.5,35,37.5,40,42.5,45,47.5,50,52.5,55,57.5,60,62.5,65,67.5,70,72.5,75,77.5,80,82.5,85,87.5,90,92.5,95,97.5,100], "labelExpr": "datum.value % 20 === 0 ? datum.label : ''", "tickSize": {"condition": {"test": "datum.value % 20 === 0", "value": 9}, "value": 4.5}, "labelPadding": 3}}},
          "layer": [
            {"transform": [{"filter": "datum.stain === 'antibody'"}], "mark": {"type": "line", "color": "#2a2ae6", "strokeWidth": 1.5, "interpolate": "monotone", "clip": true}},
            {"transform": [{"filter": "datum.stain === 'isotype'"}], "mark": {"type": "area", "color": "#222222", "opacity": 0.75, "interpolate": "monotone", "clip": true}}
          ]},
         {"transform": [{"filter": "datum.stain === 'label'"}], "mark": {"type": "text", "align": "right", "baseline": "middle", "font": "Liberation Serif", "fontSize": 26, "fontWeight": "bold", "color": "black"}, "encoding": {"x": {"datum": 4.75, "type": "quantitative", "scale": {"domain": [-1, 5.09], "nice": false, "zero": false}, "axis": null}, "y": {"datum": 94.4, "type": "quantitative", "scale": {"domain": [-0.5, 105], "nice": false, "zero": false}, "axis": null}, "text": {"field": "mfi", "type": "nominal"}}}
       ]}
    ], "spacing": 38, "bounds": "flush"},
    {"width": 950, "height": 6, "view": {"stroke": null}, "data": {"values": [{"label": "Anti-FOLR1 (APC-A)"}]},
     "encoding": {"y": {"datum": 1, "type": "quantitative", "scale": {"domain": [0, 1]}, "axis": null}},
     "layer": [
       {"mark": {"type": "rule", "strokeWidth": 5, "color": "black"},
        "encoding": {"x": {"datum": 0.0642, "type": "quantitative", "scale": {"domain": [0, 1]}, "axis": {"title": "Anti-FOLR1 (APC-A)", "domain": false, "ticks": false, "labels": false, "titleFont": "Liberation Serif", "titleFontSize": 31.5, "titleFontWeight": "bold", "titleColor": "black", "titlePadding": 0, "titleBaseline": "top", "minExtent": 0, "maxExtent": 0, "titleX": 544}}, "x2": {"datum": 1}}},
       {"mark": {"type": "point", "shape": "triangle-right", "filled": true, "size": 300, "color": "black", "opacity": 1},
        "encoding": {"x": {"datum": 1, "type": "quantitative"}}}
     ]},
    {"hconcat": [
      {"width": 32, "height": 268, "view": {"stroke": null}, "data": {"values": [{"label": "Events"}]},
       "encoding": {"x": {"datum": 0.5, "type": "quantitative", "scale": {"domain": [0, 1]}, "axis": null}},
       "layer": [
         {"mark": {"type": "rule", "strokeWidth": 5, "color": "black"},
          "encoding": {"y": {"datum": 0, "type": "quantitative", "scale": {"domain": [0, 1]}, "axis": {"title": "Events", "domain": false, "ticks": false, "labels": false, "titleFont": "Liberation Serif", "titleFontSize": 31, "titleFontWeight": "bold", "titleColor": "black", "titlePadding": -6, "titleBaseline": "alphabetic", "minExtent": 0, "maxExtent": 0, "titleY": 156}}, "y2": {"datum": 1}}},
         {"mark": {"type": "point", "shape": "triangle-up", "filled": true, "size": 256, "color": "black", "opacity": 1, "yOffset": 8},
          "encoding": {"y": {"datum": 1, "type": "quantitative"}}}
       ]},
      {"title": {"text": "A2780", "dx": -12}, "width": 270, "height": 268, "data": {"name": "FOLR1_A2780"},
       "resolve": {"scale": {"x": "independent", "y": "independent"}, "axis": {"x": "independent", "y": "independent"}},
       "layer": [
         {"encoding": {
            "x": {"field": "apc", "type": "quantitative", "scale": {"domain": [-1, 5.09], "nice": false, "zero": false}, "axis": {"title": null, "values": [-0.77,-0.72,-0.66,-0.6,-0.52,-0.43,-0.32,-0.22,-0.1,-0.05,-0.03,-0.015,0,0.015,0.03,0.05,0.09,0.2,0.29,0.39,0.47,0.54,0.59,0.65,0.69,1.04,1.24,1.38,1.49,1.58,1.66,1.73,1.79,1.84,2.14,2.32,2.44,2.54,2.62,2.69,2.74,2.79,2.85,3.15,3.33,3.45,3.55,3.63,3.7,3.75,3.8,3.85,4.15,4.33,4.45,4.55,4.63,4.7,4.75,4.8,4.85], "labelExpr": "datum.value === 0 ? '0' : datum.value === 1.84 ? '10⁴' : datum.value === 2.85 ? '10⁵' : datum.value === 3.85 ? '10⁶' : datum.value === 4.85 ? '10⁷' : ''", "tickSize": {"condition": {"test": "indexof([-0.77,-0.05,-0.03,-0.015,0,0.015,0.03,0.05,0.69,1.84,2.85,3.85,4.85], datum.value) >= 0", "value": 8}, "value": 4}, "labelAlign": {"condition": {"test": "datum.value > 4.5", "value": "right"}, "value": "left"}, "labelOffset": {"condition": {"test": "datum.value > 4.5", "value": 8}, "value": -2}, "labelPadding": 11}},
            "y": {"field": "events", "type": "quantitative", "scale": {"domain": [-0.5, 105], "nice": false, "zero": false}, "axis": {"title": null, "values": [0,2.5,5,7.5,10,12.5,15,17.5,20,22.5,25,27.5,30,32.5,35,37.5,40,42.5,45,47.5,50,52.5,55,57.5,60,62.5,65,67.5,70,72.5,75,77.5,80,82.5,85,87.5,90,92.5,95,97.5,100], "labelExpr": "datum.value % 20 === 0 ? datum.label : ''", "tickSize": {"condition": {"test": "datum.value % 20 === 0", "value": 9}, "value": 4.5}, "labelPadding": 3}}},
          "layer": [
            {"transform": [{"filter": "datum.stain === 'antibody'"}], "mark": {"type": "line", "color": "#2a2ae6", "strokeWidth": 1.5, "interpolate": "monotone", "clip": true}},
            {"transform": [{"filter": "datum.stain === 'isotype'"}], "mark": {"type": "area", "color": "#222222", "opacity": 0.75, "interpolate": "monotone", "clip": true}}
          ]},
         {"transform": [{"filter": "datum.stain === 'label'"}], "mark": {"type": "text", "align": "right", "baseline": "middle", "font": "Liberation Serif", "fontSize": 26, "fontWeight": "bold", "color": "black"}, "encoding": {"x": {"datum": 4.75, "type": "quantitative", "scale": {"domain": [-1, 5.09], "nice": false, "zero": false}, "axis": null}, "y": {"datum": 94.4, "type": "quantitative", "scale": {"domain": [-0.5, 105], "nice": false, "zero": false}, "axis": null}, "text": {"field": "mfi", "type": "nominal"}}}
       ]},
      {"title": {"text": "OVCAR4", "dx": -6}, "width": 270, "height": 268, "data": {"name": "FOLR1_OVCAR4"},
       "resolve": {"scale": {"x": "independent", "y": "independent"}, "axis": {"x": "independent", "y": "independent"}},
       "layer": [
         {"encoding": {
            "x": {"field": "apc", "type": "quantitative", "scale": {"domain": [-1, 5.09], "nice": false, "zero": false}, "axis": {"title": null, "values": [-0.77,-0.72,-0.66,-0.6,-0.52,-0.43,-0.32,-0.22,-0.1,-0.05,-0.03,-0.015,0,0.015,0.03,0.05,0.09,0.2,0.29,0.39,0.47,0.54,0.59,0.65,0.69,1.04,1.24,1.38,1.49,1.58,1.66,1.73,1.79,1.84,2.14,2.32,2.44,2.54,2.62,2.69,2.74,2.79,2.85,3.15,3.33,3.45,3.55,3.63,3.7,3.75,3.8,3.85,4.15,4.33,4.45,4.55,4.63,4.7,4.75,4.8,4.85], "labelExpr": "datum.value === 0 ? '0' : datum.value === 1.84 ? '10⁴' : datum.value === 2.85 ? '10⁵' : datum.value === 3.85 ? '10⁶' : datum.value === 4.85 ? '10⁷' : ''", "tickSize": {"condition": {"test": "indexof([-0.77,-0.05,-0.03,-0.015,0,0.015,0.03,0.05,0.69,1.84,2.85,3.85,4.85], datum.value) >= 0", "value": 8}, "value": 4}, "labelAlign": {"condition": {"test": "datum.value > 4.5", "value": "right"}, "value": "left"}, "labelOffset": {"condition": {"test": "datum.value > 4.5", "value": 8}, "value": -2}, "labelPadding": 11}},
            "y": {"field": "events", "type": "quantitative", "scale": {"domain": [-0.5, 105], "nice": false, "zero": false}, "axis": {"title": null, "values": [0,2.5,5,7.5,10,12.5,15,17.5,20,22.5,25,27.5,30,32.5,35,37.5,40,42.5,45,47.5,50,52.5,55,57.5,60,62.5,65,67.5,70,72.5,75,77.5,80,82.5,85,87.5,90,92.5,95,97.5,100], "labelExpr": "datum.value % 20 === 0 ? datum.label : ''", "tickSize": {"condition": {"test": "datum.value % 20 === 0", "value": 9}, "value": 4.5}, "labelPadding": 3}}},
          "layer": [
            {"transform": [{"filter": "datum.stain === 'antibody'"}], "mark": {"type": "line", "color": "#2a2ae6", "strokeWidth": 1.5, "interpolate": "monotone", "clip": true}},
            {"transform": [{"filter": "datum.stain === 'isotype'"}], "mark": {"type": "area", "color": "#222222", "opacity": 0.75, "interpolate": "monotone", "clip": true}}
          ]},
         {"transform": [{"filter": "datum.stain === 'label'"}], "mark": {"type": "text", "align": "right", "baseline": "middle", "font": "Liberation Serif", "fontSize": 26, "fontWeight": "bold", "color": "black"}, "encoding": {"x": {"datum": 4.75, "type": "quantitative", "scale": {"domain": [-1, 5.09], "nice": false, "zero": false}, "axis": null}, "y": {"datum": 94.4, "type": "quantitative", "scale": {"domain": [-0.5, 105], "nice": false, "zero": false}, "axis": null}, "text": {"field": "mfi", "type": "nominal"}}}
       ]},
      {"title": {"text": "Hey", "dx": -18}, "width": 270, "height": 268, "data": {"name": "FOLR1_Hey"},
       "resolve": {"scale": {"x": "independent", "y": "independent"}, "axis": {"x": "independent", "y": "independent"}},
       "layer": [
         {"encoding": {
            "x": {"field": "apc", "type": "quantitative", "scale": {"domain": [-1, 5.09], "nice": false, "zero": false}, "axis": {"title": null, "values": [-0.77,-0.72,-0.66,-0.6,-0.52,-0.43,-0.32,-0.22,-0.1,-0.05,-0.03,-0.015,0,0.015,0.03,0.05,0.09,0.2,0.29,0.39,0.47,0.54,0.59,0.65,0.69,1.04,1.24,1.38,1.49,1.58,1.66,1.73,1.79,1.84,2.14,2.32,2.44,2.54,2.62,2.69,2.74,2.79,2.85,3.15,3.33,3.45,3.55,3.63,3.7,3.75,3.8,3.85,4.15,4.33,4.45,4.55,4.63,4.7,4.75,4.8,4.85], "labelExpr": "datum.value === 0 ? '0' : datum.value === 1.84 ? '10⁴' : datum.value === 2.85 ? '10⁵' : datum.value === 3.85 ? '10⁶' : datum.value === 4.85 ? '10⁷' : ''", "tickSize": {"condition": {"test": "indexof([-0.77,-0.05,-0.03,-0.015,0,0.015,0.03,0.05,0.69,1.84,2.85,3.85,4.85], datum.value) >= 0", "value": 8}, "value": 4}, "labelAlign": {"condition": {"test": "datum.value > 4.5", "value": "right"}, "value": "left"}, "labelOffset": {"condition": {"test": "datum.value > 4.5", "value": 8}, "value": -2}, "labelPadding": 11}},
            "y": {"field": "events", "type": "quantitative", "scale": {"domain": [-0.5, 105], "nice": false, "zero": false}, "axis": {"title": null, "values": [0,2.5,5,7.5,10,12.5,15,17.5,20,22.5,25,27.5,30,32.5,35,37.5,40,42.5,45,47.5,50,52.5,55,57.5,60,62.5,65,67.5,70,72.5,75,77.5,80,82.5,85,87.5,90,92.5,95,97.5,100], "labelExpr": "datum.value % 20 === 0 ? datum.label : ''", "tickSize": {"condition": {"test": "datum.value % 20 === 0", "value": 9}, "value": 4.5}, "labelPadding": 3}}},
          "layer": [
            {"transform": [{"filter": "datum.stain === 'antibody'"}], "mark": {"type": "line", "color": "#2a2ae6", "strokeWidth": 1.5, "interpolate": "monotone", "clip": true}},
            {"transform": [{"filter": "datum.stain === 'isotype'"}], "mark": {"type": "area", "color": "#222222", "opacity": 0.75, "interpolate": "monotone", "clip": true}}
          ]},
         {"transform": [{"filter": "datum.stain === 'label'"}], "mark": {"type": "text", "align": "right", "baseline": "middle", "font": "Liberation Serif", "fontSize": 26, "fontWeight": "bold", "color": "black"}, "encoding": {"x": {"datum": 4.75, "type": "quantitative", "scale": {"domain": [-1, 5.09], "nice": false, "zero": false}, "axis": null}, "y": {"datum": 94.4, "type": "quantitative", "scale": {"domain": [-0.5, 105], "nice": false, "zero": false}, "axis": null}, "text": {"field": "mfi", "type": "nominal"}}}
       ]}
    ], "spacing": 38, "bounds": "flush"},
    {"width": 950, "height": 4, "view": {"stroke": null}, "data": {"values": [{"label": "Anti-FOLR1 (APC-A)"}]},
     "encoding": {"y": {"datum": 1, "type": "quantitative", "scale": {"domain": [0, 1]}, "axis": null}},
     "layer": [
       {"mark": {"type": "rule", "strokeWidth": 5, "color": "black"},
        "encoding": {"x": {"datum": 0.0768, "type": "quantitative", "scale": {"domain": [0, 1]}, "axis": {"title": "Anti-FOLR1 (APC-A)", "domain": false, "ticks": false, "labels": false, "titleFont": "Liberation Serif", "titleFontSize": 31.5, "titleFontWeight": "bold", "titleColor": "black", "titlePadding": 0, "titleBaseline": "top", "minExtent": 0, "maxExtent": 0, "titleX": 555}}, "x2": {"datum": 1}}},
       {"mark": {"type": "point", "shape": "triangle-right", "filled": true, "size": 300, "color": "black", "opacity": 1},
        "encoding": {"x": {"datum": 1, "type": "quantitative"}}}
     ]},
    {"hconcat": [
      {"width": 32, "height": 268, "view": {"stroke": null}, "data": {"values": [{"label": "Events"}]},
       "encoding": {"x": {"datum": 0.5, "type": "quantitative", "scale": {"domain": [0, 1]}, "axis": null}},
       "layer": [
         {"mark": {"type": "rule", "strokeWidth": 5, "color": "black"},
          "encoding": {"y": {"datum": 0, "type": "quantitative", "scale": {"domain": [0, 1]}, "axis": {"title": "Events", "domain": false, "ticks": false, "labels": false, "titleFont": "Liberation Serif", "titleFontSize": 31, "titleFontWeight": "bold", "titleColor": "black", "titlePadding": -6, "titleBaseline": "alphabetic", "minExtent": 0, "maxExtent": 0, "titleY": 156}}, "y2": {"datum": 1}}},
         {"mark": {"type": "point", "shape": "triangle-up", "filled": true, "size": 256, "color": "black", "opacity": 1, "yOffset": 8},
          "encoding": {"y": {"datum": 1, "type": "quantitative"}}}
       ]},
      {"title": {"text": "SKOV3", "dx": -24}, "width": 270, "height": 268, "data": {"name": "TROP2_SKOV3"},
       "resolve": {"scale": {"x": "independent", "y": "independent"}, "axis": {"x": "independent", "y": "independent"}},
       "layer": [
         {"encoding": {
            "x": {"field": "apc", "type": "quantitative", "scale": {"domain": [-1, 5.09], "nice": false, "zero": false}, "axis": {"title": null, "values": [-0.77,-0.72,-0.66,-0.6,-0.52,-0.43,-0.32,-0.22,-0.1,-0.05,-0.03,-0.015,0,0.015,0.03,0.05,0.09,0.2,0.29,0.39,0.47,0.54,0.59,0.65,0.69,1.04,1.24,1.38,1.49,1.58,1.66,1.73,1.79,1.84,2.14,2.32,2.44,2.54,2.62,2.69,2.74,2.79,2.85,3.15,3.33,3.45,3.55,3.63,3.7,3.75,3.8,3.85,4.15,4.33,4.45,4.55,4.63,4.7,4.75,4.8,4.85], "labelExpr": "datum.value === 0 ? '0' : datum.value === 1.84 ? '10⁴' : datum.value === 2.85 ? '10⁵' : datum.value === 3.85 ? '10⁶' : datum.value === 4.85 ? '10⁷' : ''", "tickSize": {"condition": {"test": "indexof([-0.77,-0.05,-0.03,-0.015,0,0.015,0.03,0.05,0.69,1.84,2.85,3.85,4.85], datum.value) >= 0", "value": 8}, "value": 4}, "labelAlign": {"condition": {"test": "datum.value > 4.5", "value": "right"}, "value": "left"}, "labelOffset": {"condition": {"test": "datum.value > 4.5", "value": 8}, "value": -2}, "labelPadding": 11}},
            "y": {"field": "events", "type": "quantitative", "scale": {"domain": [-0.5, 105], "nice": false, "zero": false}, "axis": {"title": null, "values": [0,2.5,5,7.5,10,12.5,15,17.5,20,22.5,25,27.5,30,32.5,35,37.5,40,42.5,45,47.5,50,52.5,55,57.5,60,62.5,65,67.5,70,72.5,75,77.5,80,82.5,85,87.5,90,92.5,95,97.5,100], "labelExpr": "datum.value % 20 === 0 ? datum.label : ''", "tickSize": {"condition": {"test": "datum.value % 20 === 0", "value": 9}, "value": 4.5}, "labelPadding": 3}}},
          "layer": [
            {"transform": [{"filter": "datum.stain === 'antibody'"}], "mark": {"type": "line", "color": "#f4a045", "strokeWidth": 1.5, "interpolate": "monotone", "clip": true}},
            {"transform": [{"filter": "datum.stain === 'isotype'"}], "mark": {"type": "area", "color": "#222222", "opacity": 0.75, "interpolate": "monotone", "clip": true}}
          ]},
         {"transform": [{"filter": "datum.stain === 'label'"}], "mark": {"type": "text", "align": "right", "baseline": "middle", "font": "Liberation Serif", "fontSize": 26, "fontWeight": "bold", "color": "black"}, "encoding": {"x": {"datum": 4.75, "type": "quantitative", "scale": {"domain": [-1, 5.09], "nice": false, "zero": false}, "axis": null}, "y": {"datum": 94.4, "type": "quantitative", "scale": {"domain": [-0.5, 105], "nice": false, "zero": false}, "axis": null}, "text": {"field": "mfi", "type": "nominal"}}}
       ]},
      {"title": {"text": "OVCAR3", "dx": -6}, "width": 270, "height": 268, "data": {"name": "TROP2_OVCAR3"},
       "resolve": {"scale": {"x": "independent", "y": "independent"}, "axis": {"x": "independent", "y": "independent"}},
       "layer": [
         {"encoding": {
            "x": {"field": "apc", "type": "quantitative", "scale": {"domain": [-1, 5.09], "nice": false, "zero": false}, "axis": {"title": null, "values": [-0.77,-0.72,-0.66,-0.6,-0.52,-0.43,-0.32,-0.22,-0.1,-0.05,-0.03,-0.015,0,0.015,0.03,0.05,0.09,0.2,0.29,0.39,0.47,0.54,0.59,0.65,0.69,1.04,1.24,1.38,1.49,1.58,1.66,1.73,1.79,1.84,2.14,2.32,2.44,2.54,2.62,2.69,2.74,2.79,2.85,3.15,3.33,3.45,3.55,3.63,3.7,3.75,3.8,3.85,4.15,4.33,4.45,4.55,4.63,4.7,4.75,4.8,4.85], "labelExpr": "datum.value === 0 ? '0' : datum.value === 1.84 ? '10⁴' : datum.value === 2.85 ? '10⁵' : datum.value === 3.85 ? '10⁶' : datum.value === 4.85 ? '10⁷' : ''", "tickSize": {"condition": {"test": "indexof([-0.77,-0.05,-0.03,-0.015,0,0.015,0.03,0.05,0.69,1.84,2.85,3.85,4.85], datum.value) >= 0", "value": 8}, "value": 4}, "labelAlign": {"condition": {"test": "datum.value > 4.5", "value": "right"}, "value": "left"}, "labelOffset": {"condition": {"test": "datum.value > 4.5", "value": 8}, "value": -2}, "labelPadding": 11}},
            "y": {"field": "events", "type": "quantitative", "scale": {"domain": [-0.5, 105], "nice": false, "zero": false}, "axis": {"title": null, "values": [0,2.5,5,7.5,10,12.5,15,17.5,20,22.5,25,27.5,30,32.5,35,37.5,40,42.5,45,47.5,50,52.5,55,57.5,60,62.5,65,67.5,70,72.5,75,77.5,80,82.5,85,87.5,90,92.5,95,97.5,100], "labelExpr": "datum.value % 20 === 0 ? datum.label : ''", "tickSize": {"condition": {"test": "datum.value % 20 === 0", "value": 9}, "value": 4.5}, "labelPadding": 3}}},
          "layer": [
            {"transform": [{"filter": "datum.stain === 'antibody'"}], "mark": {"type": "line", "color": "#f4a045", "strokeWidth": 1.5, "interpolate": "monotone", "clip": true}},
            {"transform": [{"filter": "datum.stain === 'isotype'"}], "mark": {"type": "area", "color": "#222222", "opacity": 0.75, "interpolate": "monotone", "clip": true}}
          ]},
         {"transform": [{"filter": "datum.stain === 'label'"}], "mark": {"type": "text", "align": "right", "baseline": "middle", "font": "Liberation Serif", "fontSize": 26, "fontWeight": "bold", "color": "black"}, "encoding": {"x": {"datum": 4.75, "type": "quantitative", "scale": {"domain": [-1, 5.09], "nice": false, "zero": false}, "axis": null}, "y": {"datum": 94.4, "type": "quantitative", "scale": {"domain": [-0.5, 105], "nice": false, "zero": false}, "axis": null}, "text": {"field": "mfi", "type": "nominal"}}}
       ]},
      {"title": {"text": "IGROV1", "dx": 1}, "width": 270, "height": 268, "data": {"name": "TROP2_IGROV1"},
       "resolve": {"scale": {"x": "independent", "y": "independent"}, "axis": {"x": "independent", "y": "independent"}},
       "layer": [
         {"encoding": {
            "x": {"field": "apc", "type": "quantitative", "scale": {"domain": [-1, 5.09], "nice": false, "zero": false}, "axis": {"title": null, "values": [-0.77,-0.72,-0.66,-0.6,-0.52,-0.43,-0.32,-0.22,-0.1,-0.05,-0.03,-0.015,0,0.015,0.03,0.05,0.09,0.2,0.29,0.39,0.47,0.54,0.59,0.65,0.69,1.04,1.24,1.38,1.49,1.58,1.66,1.73,1.79,1.84,2.14,2.32,2.44,2.54,2.62,2.69,2.74,2.79,2.85,3.15,3.33,3.45,3.55,3.63,3.7,3.75,3.8,3.85,4.15,4.33,4.45,4.55,4.63,4.7,4.75,4.8,4.85], "labelExpr": "datum.value === 0 ? '0' : datum.value === 1.84 ? '10⁴' : datum.value === 2.85 ? '10⁵' : datum.value === 3.85 ? '10⁶' : datum.value === 4.85 ? '10⁷' : ''", "tickSize": {"condition": {"test": "indexof([-0.77,-0.05,-0.03,-0.015,0,0.015,0.03,0.05,0.69,1.84,2.85,3.85,4.85], datum.value) >= 0", "value": 8}, "value": 4}, "labelAlign": {"condition": {"test": "datum.value > 4.5", "value": "right"}, "value": "left"}, "labelOffset": {"condition": {"test": "datum.value > 4.5", "value": 8}, "value": -2}, "labelPadding": 11}},
            "y": {"field": "events", "type": "quantitative", "scale": {"domain": [-0.5, 105], "nice": false, "zero": false}, "axis": {"title": null, "values": [0,2.5,5,7.5,10,12.5,15,17.5,20,22.5,25,27.5,30,32.5,35,37.5,40,42.5,45,47.5,50,52.5,55,57.5,60,62.5,65,67.5,70,72.5,75,77.5,80,82.5,85,87.5,90,92.5,95,97.5,100], "labelExpr": "datum.value % 20 === 0 ? datum.label : ''", "tickSize": {"condition": {"test": "datum.value % 20 === 0", "value": 9}, "value": 4.5}, "labelPadding": 3}}},
          "layer": [
            {"transform": [{"filter": "datum.stain === 'antibody'"}], "mark": {"type": "line", "color": "#f4a045", "strokeWidth": 1.5, "interpolate": "monotone", "clip": true}},
            {"transform": [{"filter": "datum.stain === 'isotype'"}], "mark": {"type": "area", "color": "#222222", "opacity": 0.75, "interpolate": "monotone", "clip": true}}
          ]},
         {"transform": [{"filter": "datum.stain === 'label'"}], "mark": {"type": "text", "align": "right", "baseline": "middle", "font": "Liberation Serif", "fontSize": 26, "fontWeight": "bold", "color": "black"}, "encoding": {"x": {"datum": 4.75, "type": "quantitative", "scale": {"domain": [-1, 5.09], "nice": false, "zero": false}, "axis": null}, "y": {"datum": 94.4, "type": "quantitative", "scale": {"domain": [-0.5, 105], "nice": false, "zero": false}, "axis": null}, "text": {"field": "mfi", "type": "nominal"}}}
       ]}
    ], "spacing": 38, "bounds": "flush"},
    {"width": 950, "height": 13, "view": {"stroke": null}, "data": {"values": [{"label": "Anti-TROP2 (APC-A)"}]},
     "encoding": {"y": {"datum": 1, "type": "quantitative", "scale": {"domain": [0, 1]}, "axis": null}},
     "layer": [
       {"mark": {"type": "rule", "strokeWidth": 5, "color": "black"},
        "encoding": {"x": {"datum": 0.0768, "type": "quantitative", "scale": {"domain": [0, 1]}, "axis": {"title": "Anti-TROP2 (APC-A)", "domain": false, "ticks": false, "labels": false, "titleFont": "Liberation Serif", "titleFontSize": 31.5, "titleFontWeight": "bold", "titleColor": "black", "titlePadding": 0, "titleBaseline": "top", "minExtent": 0, "maxExtent": 0, "titleX": 582}}, "x2": {"datum": 1}}},
       {"mark": {"type": "point", "shape": "triangle-right", "filled": true, "size": 300, "color": "black", "opacity": 1},
        "encoding": {"x": {"datum": 1, "type": "quantitative"}}}
     ]},
    {"hconcat": [
      {"width": 32, "height": 268, "view": {"stroke": null}, "data": {"values": [{"label": "Events"}]},
       "encoding": {"x": {"datum": 0.5, "type": "quantitative", "scale": {"domain": [0, 1]}, "axis": null}},
       "layer": [
         {"mark": {"type": "rule", "strokeWidth": 5, "color": "black"},
          "encoding": {"y": {"datum": 0, "type": "quantitative", "scale": {"domain": [0, 1]}, "axis": {"title": "Events", "domain": false, "ticks": false, "labels": false, "titleFont": "Liberation Serif", "titleFontSize": 31, "titleFontWeight": "bold", "titleColor": "black", "titlePadding": -6, "titleBaseline": "alphabetic", "minExtent": 0, "maxExtent": 0, "titleY": 156}}, "y2": {"datum": 1}}},
         {"mark": {"type": "point", "shape": "triangle-up", "filled": true, "size": 256, "color": "black", "opacity": 1, "yOffset": 8},
          "encoding": {"y": {"datum": 1, "type": "quantitative"}}}
       ]},
      {"title": {"text": "A2780", "dx": -11}, "width": 270, "height": 268, "data": {"name": "TROP2_A2780"},
       "resolve": {"scale": {"x": "independent", "y": "independent"}, "axis": {"x": "independent", "y": "independent"}},
       "layer": [
         {"encoding": {
            "x": {"field": "apc", "type": "quantitative", "scale": {"domain": [-1, 5.09], "nice": false, "zero": false}, "axis": {"title": null, "values": [-0.77,-0.72,-0.66,-0.6,-0.52,-0.43,-0.32,-0.22,-0.1,-0.05,-0.03,-0.015,0,0.015,0.03,0.05,0.09,0.2,0.29,0.39,0.47,0.54,0.59,0.65,0.69,1.04,1.24,1.38,1.49,1.58,1.66,1.73,1.79,1.84,2.14,2.32,2.44,2.54,2.62,2.69,2.74,2.79,2.85,3.15,3.33,3.45,3.55,3.63,3.7,3.75,3.8,3.85,4.15,4.33,4.45,4.55,4.63,4.7,4.75,4.8,4.85], "labelExpr": "datum.value === 0 ? '0' : datum.value === 1.84 ? '10⁴' : datum.value === 2.85 ? '10⁵' : datum.value === 3.85 ? '10⁶' : datum.value === 4.85 ? '10⁷' : ''", "tickSize": {"condition": {"test": "indexof([-0.77,-0.05,-0.03,-0.015,0,0.015,0.03,0.05,0.69,1.84,2.85,3.85,4.85], datum.value) >= 0", "value": 8}, "value": 4}, "labelAlign": {"condition": {"test": "datum.value > 4.5", "value": "right"}, "value": "left"}, "labelOffset": {"condition": {"test": "datum.value > 4.5", "value": 8}, "value": -2}, "labelPadding": 11}},
            "y": {"field": "events", "type": "quantitative", "scale": {"domain": [-0.5, 105], "nice": false, "zero": false}, "axis": {"title": null, "values": [0,2.5,5,7.5,10,12.5,15,17.5,20,22.5,25,27.5,30,32.5,35,37.5,40,42.5,45,47.5,50,52.5,55,57.5,60,62.5,65,67.5,70,72.5,75,77.5,80,82.5,85,87.5,90,92.5,95,97.5,100], "labelExpr": "datum.value % 20 === 0 ? datum.label : ''", "tickSize": {"condition": {"test": "datum.value % 20 === 0", "value": 9}, "value": 4.5}, "labelPadding": 3}}},
          "layer": [
            {"transform": [{"filter": "datum.stain === 'antibody'"}], "mark": {"type": "line", "color": "#f4a045", "strokeWidth": 1.5, "interpolate": "monotone", "clip": true}},
            {"transform": [{"filter": "datum.stain === 'isotype'"}], "mark": {"type": "area", "color": "#222222", "opacity": 0.75, "interpolate": "monotone", "clip": true}}
          ]},
         {"transform": [{"filter": "datum.stain === 'label'"}], "mark": {"type": "text", "align": "right", "baseline": "middle", "font": "Liberation Serif", "fontSize": 26, "fontWeight": "bold", "color": "black"}, "encoding": {"x": {"datum": 4.75, "type": "quantitative", "scale": {"domain": [-1, 5.09], "nice": false, "zero": false}, "axis": null}, "y": {"datum": 94.4, "type": "quantitative", "scale": {"domain": [-0.5, 105], "nice": false, "zero": false}, "axis": null}, "text": {"field": "mfi", "type": "nominal"}}}
       ]},
      {"title": {"text": "OVCAR4", "dx": -10}, "width": 270, "height": 268, "data": {"name": "TROP2_OVCAR4"},
       "resolve": {"scale": {"x": "independent", "y": "independent"}, "axis": {"x": "independent", "y": "independent"}},
       "layer": [
         {"encoding": {
            "x": {"field": "apc", "type": "quantitative", "scale": {"domain": [-1, 5.09], "nice": false, "zero": false}, "axis": {"title": null, "values": [-0.77,-0.72,-0.66,-0.6,-0.52,-0.43,-0.32,-0.22,-0.1,-0.05,-0.03,-0.015,0,0.015,0.03,0.05,0.09,0.2,0.29,0.39,0.47,0.54,0.59,0.65,0.69,1.04,1.24,1.38,1.49,1.58,1.66,1.73,1.79,1.84,2.14,2.32,2.44,2.54,2.62,2.69,2.74,2.79,2.85,3.15,3.33,3.45,3.55,3.63,3.7,3.75,3.8,3.85,4.15,4.33,4.45,4.55,4.63,4.7,4.75,4.8,4.85], "labelExpr": "datum.value === 0 ? '0' : datum.value === 1.84 ? '10⁴' : datum.value === 2.85 ? '10⁵' : datum.value === 3.85 ? '10⁶' : datum.value === 4.85 ? '10⁷' : ''", "tickSize": {"condition": {"test": "indexof([-0.77,-0.05,-0.03,-0.015,0,0.015,0.03,0.05,0.69,1.84,2.85,3.85,4.85], datum.value) >= 0", "value": 8}, "value": 4}, "labelAlign": {"condition": {"test": "datum.value > 4.5", "value": "right"}, "value": "left"}, "labelOffset": {"condition": {"test": "datum.value > 4.5", "value": 8}, "value": -2}, "labelPadding": 11}},
            "y": {"field": "events", "type": "quantitative", "scale": {"domain": [-0.5, 105], "nice": false, "zero": false}, "axis": {"title": null, "values": [0,2.5,5,7.5,10,12.5,15,17.5,20,22.5,25,27.5,30,32.5,35,37.5,40,42.5,45,47.5,50,52.5,55,57.5,60,62.5,65,67.5,70,72.5,75,77.5,80,82.5,85,87.5,90,92.5,95,97.5,100], "labelExpr": "datum.value % 20 === 0 ? datum.label : ''", "tickSize": {"condition": {"test": "datum.value % 20 === 0", "value": 9}, "value": 4.5}, "labelPadding": 3}}},
          "layer": [
            {"transform": [{"filter": "datum.stain === 'antibody'"}], "mark": {"type": "line", "color": "#f4a045", "strokeWidth": 1.5, "interpolate": "monotone", "clip": true}},
            {"transform": [{"filter": "datum.stain === 'isotype'"}], "mark": {"type": "area", "color": "#222222", "opacity": 0.75, "interpolate": "monotone", "clip": true}}
          ]},
         {"transform": [{"filter": "datum.stain === 'label'"}], "mark": {"type": "text", "align": "right", "baseline": "middle", "font": "Liberation Serif", "fontSize": 26, "fontWeight": "bold", "color": "black"}, "encoding": {"x": {"datum": 4.75, "type": "quantitative", "scale": {"domain": [-1, 5.09], "nice": false, "zero": false}, "axis": null}, "y": {"datum": 94.4, "type": "quantitative", "scale": {"domain": [-0.5, 105], "nice": false, "zero": false}, "axis": null}, "text": {"field": "mfi", "type": "nominal"}}}
       ]},
      {"title": {"text": "Hey", "dx": -20}, "width": 270, "height": 268, "data": {"name": "TROP2_Hey"},
       "resolve": {"scale": {"x": "independent", "y": "independent"}, "axis": {"x": "independent", "y": "independent"}},
       "layer": [
         {"encoding": {
            "x": {"field": "apc", "type": "quantitative", "scale": {"domain": [-1, 5.09], "nice": false, "zero": false}, "axis": {"title": null, "values": [-0.77,-0.72,-0.66,-0.6,-0.52,-0.43,-0.32,-0.22,-0.1,-0.05,-0.03,-0.015,0,0.015,0.03,0.05,0.09,0.2,0.29,0.39,0.47,0.54,0.59,0.65,0.69,1.04,1.24,1.38,1.49,1.58,1.66,1.73,1.79,1.84,2.14,2.32,2.44,2.54,2.62,2.69,2.74,2.79,2.85,3.15,3.33,3.45,3.55,3.63,3.7,3.75,3.8,3.85,4.15,4.33,4.45,4.55,4.63,4.7,4.75,4.8,4.85], "labelExpr": "datum.value === 0 ? '0' : datum.value === 1.84 ? '10⁴' : datum.value === 2.85 ? '10⁵' : datum.value === 3.85 ? '10⁶' : datum.value === 4.85 ? '10⁷' : ''", "tickSize": {"condition": {"test": "indexof([-0.77,-0.05,-0.03,-0.015,0,0.015,0.03,0.05,0.69,1.84,2.85,3.85,4.85], datum.value) >= 0", "value": 8}, "value": 4}, "labelAlign": {"condition": {"test": "datum.value > 4.5", "value": "right"}, "value": "left"}, "labelOffset": {"condition": {"test": "datum.value > 4.5", "value": 8}, "value": -2}, "labelPadding": 11}},
            "y": {"field": "events", "type": "quantitative", "scale": {"domain": [-0.5, 105], "nice": false, "zero": false}, "axis": {"title": null, "values": [0,2.5,5,7.5,10,12.5,15,17.5,20,22.5,25,27.5,30,32.5,35,37.5,40,42.5,45,47.5,50,52.5,55,57.5,60,62.5,65,67.5,70,72.5,75,77.5,80,82.5,85,87.5,90,92.5,95,97.5,100], "labelExpr": "datum.value % 20 === 0 ? datum.label : ''", "tickSize": {"condition": {"test": "datum.value % 20 === 0", "value": 9}, "value": 4.5}, "labelPadding": 3}}},
          "layer": [
            {"transform": [{"filter": "datum.stain === 'antibody'"}], "mark": {"type": "line", "color": "#f4a045", "strokeWidth": 1.5, "interpolate": "monotone", "clip": true}},
            {"transform": [{"filter": "datum.stain === 'isotype'"}], "mark": {"type": "area", "color": "#222222", "opacity": 0.75, "interpolate": "monotone", "clip": true}}
          ]},
         {"transform": [{"filter": "datum.stain === 'label'"}], "mark": {"type": "text", "align": "right", "baseline": "middle", "font": "Liberation Serif", "fontSize": 26, "fontWeight": "bold", "color": "black"}, "encoding": {"x": {"datum": 4.75, "type": "quantitative", "scale": {"domain": [-1, 5.09], "nice": false, "zero": false}, "axis": null}, "y": {"datum": 94.4, "type": "quantitative", "scale": {"domain": [-0.5, 105], "nice": false, "zero": false}, "axis": null}, "text": {"field": "mfi", "type": "nominal"}}}
       ]}
    ], "spacing": 38, "bounds": "flush"},
    {"width": 950, "height": 29, "view": {"stroke": null}, "data": {"values": [{"label": "Anti-TROP2 (APC-A)"}]},
     "encoding": {"y": {"datum": 1, "type": "quantitative", "scale": {"domain": [0, 1]}, "axis": null}},
     "layer": [
       {"mark": {"type": "rule", "strokeWidth": 5, "color": "black", "yOffset": 15},
        "encoding": {"x": {"datum": 0.0768, "type": "quantitative", "scale": {"domain": [0, 1]}, "axis": {"title": "Anti-TROP2 (APC-A)", "domain": false, "ticks": false, "labels": false, "titleFont": "Liberation Serif", "titleFontSize": 31.5, "titleFontWeight": "bold", "titleColor": "black", "titlePadding": 0, "titleBaseline": "top", "minExtent": 0, "maxExtent": 0, "titleX": 584}}, "x2": {"datum": 1}}},
       {"mark": {"type": "point", "shape": "triangle-right", "filled": true, "size": 300, "color": "black", "opacity": 1, "yOffset": 15},
        "encoding": {"x": {"datum": 1, "type": "quantitative"}}}
     ]}
  ],
  "spacing": 1.5
}
